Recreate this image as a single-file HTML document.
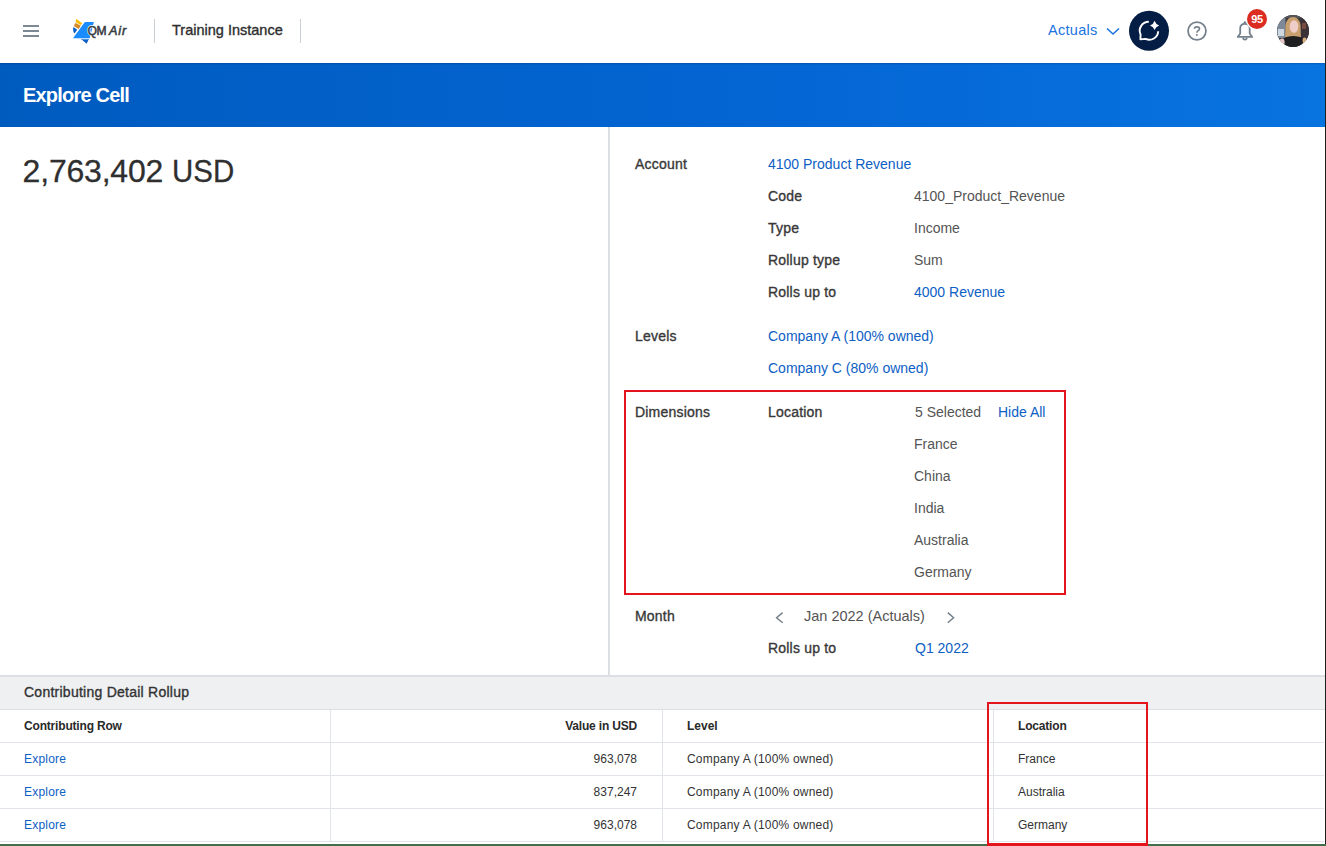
<!DOCTYPE html>
<html><head><meta charset="utf-8"><title>Explore Cell</title>
<style>
html,body{margin:0;padding:0;background:#fff;}
body{width:1326px;height:846px;position:relative;overflow:hidden;font-family:"Liberation Sans",sans-serif;}
.t{position:absolute;white-space:nowrap;font-family:"Liberation Sans",sans-serif;}
.r{position:absolute;}
</style></head><body>

<!-- header -->
<div class="r" style="left:23px;top:25px;width:16px;height:2px;background:#7c8893"></div>
<div class="r" style="left:23px;top:30px;width:16px;height:2px;background:#7c8893"></div>
<div class="r" style="left:23px;top:35px;width:16px;height:2px;background:#7c8893"></div>
<div class="r" style="left:154px;top:19px;width:1px;height:24px;background:#c9ced4"></div>
<div class="r" style="left:300px;top:19px;width:1px;height:24px;background:#c9ced4"></div>
<!-- blue band -->
<div class="r" style="left:0;top:63px;width:1326px;height:64px;background:linear-gradient(90deg,#005bbf 0%,#0466d4 60%,#0874e0 100%)"></div>
<div class="r" style="left:0;top:63px;width:1326px;height:1px;background:rgba(0,10,50,0.16)"></div>
<div class="r" style="left:0;top:64px;width:1326px;height:1px;background:rgba(0,10,50,0.06)"></div>
<!-- dividers -->
<div class="r" style="left:608px;top:127px;width:2px;height:548px;background:#dcdfe3"></div>
<div class="r" style="left:0;top:675px;width:1326px;height:2px;background:#dcdfe3"></div>
<div class="r" style="left:0;top:677px;width:1326px;height:32px;background:#eff0f2"></div>
<div class="r" style="left:0;top:709px;width:1326px;height:1px;background:#dcdfe3"></div>
<!-- table lines -->
<div class="r" style="left:0;top:742px;width:1324px;height:1px;background:#e1e4e8"></div>
<div class="r" style="left:0;top:775px;width:1324px;height:1px;background:#e1e4e8"></div>
<div class="r" style="left:0;top:808px;width:1324px;height:1px;background:#e1e4e8"></div>
<div class="r" style="left:0;top:841px;width:1324px;height:1px;background:#e1e4e8"></div>
<div class="r" style="left:330px;top:710px;width:1px;height:132px;background:#e1e4e8"></div>
<div class="r" style="left:662px;top:710px;width:1px;height:132px;background:#e1e4e8"></div>
<div class="r" style="left:993px;top:710px;width:1px;height:132px;background:#e1e4e8"></div>
<!-- red boxes -->
<div class="r" style="left:624px;top:390px;width:442px;height:205px;border:2px solid #e3141c;box-sizing:border-box"></div>
<div class="r" style="left:987px;top:702px;width:161px;height:144px;border:2px solid #e3141c;box-sizing:border-box"></div>
<!-- window edges -->
<div class="r" style="left:0;top:844px;width:1326px;height:2px;background:#41704a"></div>
<div class="r" style="left:987px;top:843px;width:161px;height:3px;background:#e3141c"></div>
<div class="r" style="left:1325px;top:0;width:1px;height:844px;background:#1e1e1e"></div>


<!-- logo -->
<svg class="r" style="left:70px;top:16px" width="60" height="30" viewBox="70 16 60 30">
  <polygon points="76.4,18.8 82.3,23.4 80.9,24.9 75.6,22.2" fill="#fbbc09"/>
  <polygon points="75.4,23 80.7,25.5 78.8,29.1 73.8,26.1" fill="#d4862a"/>
  <circle cx="76.4" cy="25.4" r="0.5" fill="#fbbc09"/>
  <path d="M73.4,27 L77.2,29.8 L74.6,33.6 Q72.4,31 73.4,27 Z" fill="#0a5ec8"/>
  <path d="M85.5,21.9 L93.9,21.9 L89.7,38.3 L73,38.3 L84.5,22.6 Q85,21.9 85.5,21.9 Z" fill="#1a8cff"/>
  <polygon points="81,39 88.8,39 86.7,43.8" fill="#0b5ec6"/>
  <rect x="81" y="38.9" width="7.8" height="0.8" fill="#6aa8f0"/>
  <text x="87.4" y="34.6" font-family="Liberation Sans" font-size="12.1" font-weight="400" fill="#fff" stroke="#fff" stroke-width="1.8" letter-spacing="-0.2">QM</text>
  <text x="87.4" y="34.6" font-family="Liberation Sans" font-size="12.1" font-weight="400" fill="#3a3d42" stroke="#3a3d42" stroke-width="0.55" letter-spacing="-0.2">QM</text>
  <text x="108.9" y="34.6" font-family="Liberation Sans" font-size="12.6" font-weight="400" font-style="italic" fill="#3a3d42" stroke="#3a3d42" stroke-width="0.55" letter-spacing="0.9">Air</text>
</svg>
<!-- chevron down -->
<svg class="r" style="left:1104px;top:24px" width="18" height="14" viewBox="1104 24 18 14">
  <polyline points="1107,28.5 1113,34 1119,28.5" fill="none" stroke="#1a73e0" stroke-width="1.6"/>
</svg>
<!-- chat sparkle -->
<svg class="r" style="left:1129px;top:10px" width="41" height="42" viewBox="1129 10 41 42">
  <circle cx="1149" cy="30.8" r="20" fill="#031d44"/>
  <path d="M1148.8,21.8 A8.9,8.9 0 0 0 1140.6,34.5 L1140.4,39.4 L1145.5,38.9 A8.9,8.9 0 0 0 1158.2,31.3" fill="none" stroke="#fff" stroke-width="1.9" stroke-linejoin="round"/>
  <path d="M1154.6,20.7 Q1155.7,24.3 1159.2,25.4 Q1155.7,26.5 1154.6,30.1 Q1153.5,26.5 1150,25.4 Q1153.5,24.3 1154.6,20.7 Z" fill="#fff"/>
</svg>
<!-- help -->
<svg class="r" style="left:1184px;top:18px" width="26" height="26" viewBox="1184 18 26 26">
  <circle cx="1197" cy="30.95" r="8.95" fill="none" stroke="#74808b" stroke-width="1.75"/>
  <path d="M1194.5,28.7 Q1194.5,26.9 1197,26.9 Q1199.5,26.9 1199.5,28.7 Q1199.5,29.9 1198.1,30.6 Q1196.9,31.3 1196.9,32.8" fill="none" stroke="#74808b" stroke-width="1.65"/>
  <circle cx="1196.85" cy="35" r="0.95" fill="#74808b"/>
</svg>
<!-- bell -->
<svg class="r" style="left:1234px;top:18px" width="22" height="25" viewBox="1234 18 22 25">
  <path d="M1240.2,33.4 L1240.2,28.4 Q1240.2,23.8 1244.95,23.8 Q1249.7,23.8 1249.7,28.4 L1249.7,33.4 L1252.2,36.9 L1237.7,36.9 Z" fill="none" stroke="#74808b" stroke-width="1.8" stroke-linejoin="round"/>
  <path d="M1243.1,37.8 A1.85,1.85 0 0 0 1246.8,37.8" fill="none" stroke="#74808b" stroke-width="1.7"/>
  <path d="M1243.3,23.3 L1244.95,21.1 L1246.6,23.3 Z" fill="#74808b" stroke="#74808b" stroke-width="0.4" stroke-linejoin="round"/>
</svg>
<!-- badge -->
<div class="r" style="left:1247px;top:9px;width:20px;height:20px;border-radius:50%;background:#dc2b21;box-shadow:0 0 0 1.2px #fff"></div>
<div class="t" style="left:1247px;top:12px;width:20px;text-align:center;font-size:11px;line-height:15px;font-weight:700;color:#fff;letter-spacing:-0.3px">95</div>
<!-- month chevrons -->
<svg class="r" style="left:772px;top:609px" width="14" height="17" viewBox="772 609 14 17">
  <polyline points="782.6,612.6 776.6,617.7 782.6,622.8" fill="none" stroke="#74808b" stroke-width="1.5"/>
</svg>
<svg class="r" style="left:944px;top:609px" width="14" height="17" viewBox="944 609 14 17">
  <polyline points="947.8,612.6 953.6,617.7 947.8,622.8" fill="none" stroke="#74808b" stroke-width="1.5"/>
</svg>
<!-- avatar -->
<svg class="r" style="left:1277px;top:15px" width="32" height="32" viewBox="0 0 32 32">
  <defs><clipPath id="av"><circle cx="16" cy="16" r="16"/></clipPath></defs>
  <g clip-path="url(#av)">
    <rect width="32" height="32" fill="#3a393d"/>
    <rect x="0" y="3" width="8.5" height="20" fill="#7d8898"/>
    <rect x="1" y="14" width="6" height="7" fill="#cfd6df"/>
    <rect x="24" y="3" width="8" height="20" fill="#3b3235"/>
    <rect x="25" y="8" width="4" height="6" fill="#7a4a40"/>
    <rect x="6" y="0" width="20" height="3" fill="#55555a"/>
    <path d="M8,25 L8.5,10 Q10,2 16,2 Q22,2 23.5,10 L24,25 Z" fill="#c9a06e"/>
    <ellipse cx="17" cy="11.5" rx="4.3" ry="6.3" fill="#efcdc8"/>
    <path d="M7,32 L7.5,22.5 Q16,19.5 25,22.5 L25.5,32 Z" fill="#1f1f22"/>
    <ellipse cx="5" cy="27.5" rx="2.6" ry="4" fill="#e9c9c9"/>
    <ellipse cx="27.5" cy="25.5" rx="1.8" ry="3" fill="#ddb07c"/>
  </g>
</svg>

<div class="t" style="left:172px;top:20px;font-size:14.5px;line-height:20px;font-weight:400;color:#2e2e2e;-webkit-text-stroke:0.35px #2e2e2e;letter-spacing:0px">Training Instance</div>
<div class="t" style="left:1048px;top:20px;font-size:14.5px;line-height:20px;font-weight:400;color:#1a73e0;letter-spacing:0.3px">Actuals</div>
<div class="t" style="left:23px;top:81px;font-size:20px;line-height:28px;font-weight:700;color:#ffffff;letter-spacing:-0.8px">Explore Cell</div>
<div class="t" style="left:22.6px;top:149px;font-size:32px;line-height:45px;font-weight:400;color:#2f2f2f;letter-spacing:-0.2px;-webkit-text-stroke:0.3px #2f2f2f">2,763,402</div>
<div class="t" style="left:171.5px;top:149px;font-size:32px;line-height:45px;font-weight:400;color:#2f2f2f;transform:scaleX(0.92);transform-origin:0 0;-webkit-text-stroke:0.3px #2f2f2f">USD</div>
<div class="t" style="left:635px;top:154px;font-size:14px;line-height:20px;font-weight:400;color:#383838;-webkit-text-stroke:0.35px #383838;letter-spacing:0.2px">Account</div>
<div class="t" style="left:768px;top:154px;font-size:14px;line-height:20px;font-weight:400;color:#0d60c4;">4100 Product Revenue</div>
<div class="t" style="left:768px;top:186px;font-size:14px;line-height:20px;font-weight:400;color:#383838;-webkit-text-stroke:0.35px #383838;letter-spacing:0.2px">Code</div>
<div class="t" style="left:914px;top:186px;font-size:14px;line-height:20px;font-weight:400;color:#545454;">4100_Product_Revenue</div>
<div class="t" style="left:768px;top:218px;font-size:14px;line-height:20px;font-weight:400;color:#383838;-webkit-text-stroke:0.35px #383838;letter-spacing:0.2px">Type</div>
<div class="t" style="left:914px;top:218px;font-size:14px;line-height:20px;font-weight:400;color:#545454;">Income</div>
<div class="t" style="left:768px;top:250px;font-size:14px;line-height:20px;font-weight:400;color:#383838;-webkit-text-stroke:0.35px #383838;letter-spacing:0.2px">Rollup type</div>
<div class="t" style="left:914px;top:250px;font-size:14px;line-height:20px;font-weight:400;color:#545454;">Sum</div>
<div class="t" style="left:768px;top:282px;font-size:14px;line-height:20px;font-weight:400;color:#383838;-webkit-text-stroke:0.35px #383838;letter-spacing:0.2px">Rolls up to</div>
<div class="t" style="left:914px;top:282px;font-size:14px;line-height:20px;font-weight:400;color:#0d60c4;">4000 Revenue</div>
<div class="t" style="left:635px;top:326px;font-size:14px;line-height:20px;font-weight:400;color:#383838;-webkit-text-stroke:0.35px #383838;letter-spacing:0.2px">Levels</div>
<div class="t" style="left:768px;top:326px;font-size:14px;line-height:20px;font-weight:400;color:#0d60c4;">Company A (100% owned)</div>
<div class="t" style="left:768px;top:358px;font-size:14px;line-height:20px;font-weight:400;color:#0d60c4;">Company C (80% owned)</div>
<div class="t" style="left:635px;top:402px;font-size:14px;line-height:20px;font-weight:400;color:#383838;-webkit-text-stroke:0.35px #383838;letter-spacing:0.2px">Dimensions</div>
<div class="t" style="left:768px;top:402px;font-size:14px;line-height:20px;font-weight:400;color:#383838;-webkit-text-stroke:0.35px #383838;letter-spacing:0.2px">Location</div>
<div class="t" style="left:915px;top:402px;font-size:14px;line-height:20px;font-weight:400;color:#545454;">5 Selected</div>
<div class="t" style="left:998px;top:402px;font-size:14px;line-height:20px;font-weight:400;color:#0d60c4;">Hide All</div>
<div class="t" style="left:914px;top:434px;font-size:14px;line-height:20px;font-weight:400;color:#545454;">France</div>
<div class="t" style="left:914px;top:466px;font-size:14px;line-height:20px;font-weight:400;color:#545454;">China</div>
<div class="t" style="left:914px;top:498px;font-size:14px;line-height:20px;font-weight:400;color:#545454;">India</div>
<div class="t" style="left:914px;top:530px;font-size:14px;line-height:20px;font-weight:400;color:#545454;">Australia</div>
<div class="t" style="left:914px;top:562px;font-size:14px;line-height:20px;font-weight:400;color:#545454;">Germany</div>
<div class="t" style="left:635px;top:606px;font-size:14px;line-height:20px;font-weight:400;color:#383838;-webkit-text-stroke:0.35px #383838;letter-spacing:0.2px">Month</div>
<div class="t" style="left:804px;top:606px;font-size:14.5px;line-height:20px;font-weight:400;color:#545454;">Jan 2022 (Actuals)</div>
<div class="t" style="left:768px;top:638px;font-size:14px;line-height:20px;font-weight:400;color:#383838;-webkit-text-stroke:0.35px #383838;letter-spacing:0.2px">Rolls up to</div>
<div class="t" style="left:915px;top:638px;font-size:14px;line-height:20px;font-weight:400;color:#0d60c4;">Q1 2022</div>
<div class="t" style="left:24px;top:682px;font-size:14px;line-height:20px;font-weight:400;color:#333;-webkit-text-stroke:0.35px #333;letter-spacing:0.25px">Contributing Detail Rollup</div>
<div class="t" style="left:24px;top:718px;font-size:12px;line-height:17px;font-weight:700;color:#2a2a2a;letter-spacing:-0.18px">Contributing Row</div>
<div class="t" style="right:689px;top:718px;font-size:12px;line-height:17px;font-weight:700;color:#2a2a2a;letter-spacing:-0.18px">Value in USD</div>
<div class="t" style="left:687px;top:718px;font-size:12px;line-height:17px;font-weight:700;color:#2a2a2a;">Level</div>
<div class="t" style="left:1018px;top:718px;font-size:12px;line-height:17px;font-weight:700;color:#2a2a2a;letter-spacing:-0.18px">Location</div>
<div class="t" style="left:24px;top:751px;font-size:12px;line-height:17px;font-weight:400;color:#0d60c4;letter-spacing:0.2px">Explore</div>
<div class="t" style="right:689px;top:751px;font-size:12px;line-height:17px;font-weight:400;color:#333;">963,078</div>
<div class="t" style="left:687px;top:751px;font-size:12px;line-height:17px;font-weight:400;color:#333;letter-spacing:0.2px">Company A (100% owned)</div>
<div class="t" style="left:1018px;top:751px;font-size:12px;line-height:17px;font-weight:400;color:#333;">France</div>
<div class="t" style="left:24px;top:784px;font-size:12px;line-height:17px;font-weight:400;color:#0d60c4;letter-spacing:0.2px">Explore</div>
<div class="t" style="right:689px;top:784px;font-size:12px;line-height:17px;font-weight:400;color:#333;">837,247</div>
<div class="t" style="left:687px;top:784px;font-size:12px;line-height:17px;font-weight:400;color:#333;letter-spacing:0.2px">Company A (100% owned)</div>
<div class="t" style="left:1018px;top:784px;font-size:12px;line-height:17px;font-weight:400;color:#333;">Australia</div>
<div class="t" style="left:24px;top:817px;font-size:12px;line-height:17px;font-weight:400;color:#0d60c4;letter-spacing:0.2px">Explore</div>
<div class="t" style="right:689px;top:817px;font-size:12px;line-height:17px;font-weight:400;color:#333;">963,078</div>
<div class="t" style="left:687px;top:817px;font-size:12px;line-height:17px;font-weight:400;color:#333;letter-spacing:0.2px">Company A (100% owned)</div>
<div class="t" style="left:1018px;top:817px;font-size:12px;line-height:17px;font-weight:400;color:#333;">Germany</div>

</body></html>
